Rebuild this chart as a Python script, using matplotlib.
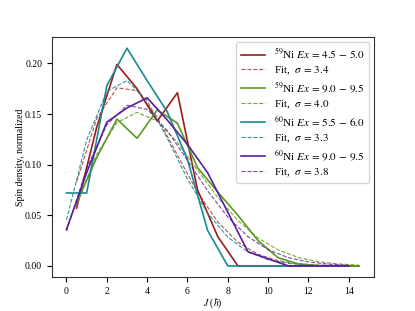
import matplotlib
matplotlib.use('Agg')
import matplotlib.pyplot as plt
import numpy as np

plt.rcParams['font.family'] = ['Liberation Serif', 'DejaVu Serif']
plt.rcParams['mathtext.fontset'] = 'stix'
plt.rcParams['font.size'] = 7

# spins: half-integer for 59Ni, integer for 60Ni
J_half = np.arange(0.5, 15.0, 1.0)
J_int = np.arange(0, 15, 1.0)

# 59Ni Ex = 4.5 - 5.0
ni59_low = [0.057, 0.137, 0.199, 0.175, 0.143, 0.171, 0.075, 0.029, 0.0, 0.0, 0.0, 0.0, 0.0, 0.0, 0.0]
ni59_low_fit = [0.0829, 0.1455, 0.1759, 0.1732, 0.1467, 0.1094, 0.0727, 0.0434, 0.0234, 0.0114, 0.0051, 0.0020, 0.0008, 0.0003, 0.0001]
# 59Ni Ex = 9.0 - 9.5
ni59_high = [0.062, 0.107, 0.145, 0.126, 0.154, 0.141, 0.097, 0.073, 0.050, 0.025, 0.008, 0.002, 0.0, 0.0, 0.0]
ni59_high_fit = [0.0606, 0.1103, 0.1415, 0.1516, 0.1431, 0.1218, 0.0946, 0.0677, 0.0448, 0.0275, 0.0157, 0.0083, 0.0041, 0.0019, 0.0008]
# 60Ni Ex = 5.5 - 6.0
ni60_low = [0.072, 0.072, 0.178, 0.215, 0.183, 0.152, 0.105, 0.035, 0.0, 0.0, 0.0, 0.0, 0.0, 0.0, 0.0]
ni60_low_fit = [0.0454, 0.1242, 0.1723, 0.1831, 0.1631, 0.1260, 0.0858, 0.0521, 0.0283, 0.0138, 0.0061, 0.0024, 0.0009, 0.0003, 0.0001]
# 60Ni Ex = 9.0 - 9.5
ni60_high = [0.036, 0.092, 0.142, 0.156, 0.166, 0.144, 0.120, 0.092, 0.053, 0.014, 0.007, 0.0, 0.0, 0.0, 0.0]
ni60_high_fit = [0.0343, 0.0961, 0.1394, 0.1586, 0.1546, 0.1337, 0.1042, 0.0741, 0.0482, 0.0289, 0.0160, 0.0082, 0.0039, 0.0017, 0.0007]

c_red = '#9b1b1b'
c_green = '#5c9a1c'
c_teal = '#1a8a91'
c_purple = '#5b1c9e'

fig = plt.figure(figsize=(4.15, 3.11), dpi=100)
ax = fig.add_subplot(111)

ax.plot(J_half, ni59_low, '-', color=c_red, lw=1.2, label=r'$^{59}$Ni $Ex\,=\,4.5\,-\,5.0$')
ax.plot(J_half, ni59_low_fit, '--', color=c_red, lw=0.8, alpha=0.75, label=r'Fit,  $\sigma\,=\,3.4$')
ax.plot(J_half, ni59_high, '-', color=c_green, lw=1.2, label=r'$^{59}$Ni $Ex\,=\,9.0\,-\,9.5$')
ax.plot(J_half, ni59_high_fit, '--', color=c_green, lw=0.8, alpha=0.85, label=r'Fit,  $\sigma\,=\,4.0$')
ax.plot(J_int, ni60_low, '-', color=c_teal, lw=1.2, label=r'$^{60}$Ni $Ex\,=\,5.5\,-\,6.0$')
ax.plot(J_int, ni60_low_fit, '--', color=c_teal, lw=0.8, alpha=0.9, label=r'Fit,  $\sigma\,=\,3.3$')
ax.plot(J_int, ni60_high, '-', color=c_purple, lw=1.2, label=r'$^{60}$Ni $Ex\,=\,9.0\,-\,9.5$')
ax.plot(J_int, ni60_high_fit, '--', color=c_purple, lw=0.8, alpha=0.8, label=r'Fit,  $\sigma\,=\,3.8$')

ax.set_xlabel(r'$J$ ($\hbar$)', labelpad=1)
ax.set_ylabel('Spin density, normalized', labelpad=0)
ax.set_yticks([0.0, 0.05, 0.10, 0.15, 0.20])
for s in ax.spines.values():
    s.set_color('#333333')
ax.legend(loc='upper right', fontsize=8, framealpha=0.8, edgecolor='#cccccc',
          handlelength=2.2, labelspacing=0.3, borderaxespad=0.4)

plt.savefig('out.png', dpi=100)
